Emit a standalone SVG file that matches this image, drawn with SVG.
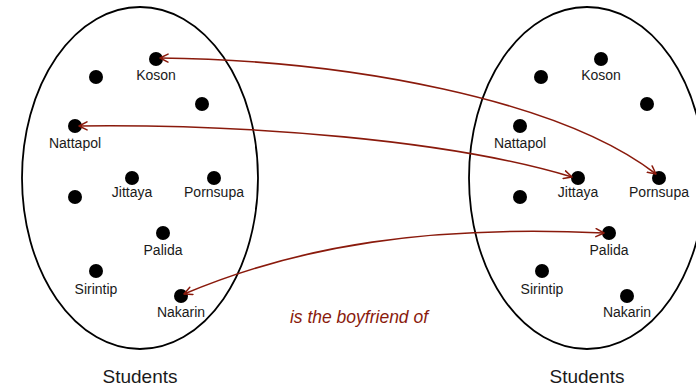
<svg xmlns="http://www.w3.org/2000/svg" width="696" height="389" viewBox="0 0 696 389">
  <defs>
    <marker id="chev" viewBox="0 0 10 10" refX="9" refY="5" markerWidth="10" markerHeight="10" markerUnits="userSpaceOnUse" orient="auto-start-reverse">
      <path d="M1,1 L9,5 L1,9" fill="none" stroke="#8a1a0c" stroke-width="1.5" stroke-linecap="round" stroke-linejoin="round"/>
    </marker>
  </defs>
  <style>
    .set { fill: none; stroke: #000; stroke-width: 1.8; }
    .dot { fill: #000; }
    .lbl { font-family: "Liberation Sans", Arial, sans-serif; font-size: 14px; fill: #1a1a1a; text-anchor: middle; }
    .title { font-family: "Liberation Sans", Arial, sans-serif; font-size: 19px; fill: #1a1a1a; text-anchor: middle; }
    .rel { fill: none; stroke: #8a1a0c; stroke-width: 1.6; marker-start: url(#chev); marker-end: url(#chev); }
    .rel-lbl { font-family: "Liberation Sans", Arial, sans-serif; font-style: italic; font-size: 17.5px; fill: #8a1a0c; text-anchor: middle; }
  </style>
  <rect width="696" height="389" fill="#fff"/>

  <!-- domain set -->
  <g id="set-left">
    <ellipse class="set" cx="140" cy="178" rx="118" ry="171"/>
    <text class="title" x="140" y="383">Students</text>
  </g>
  <g id="l-koson"><circle class="dot" cx="156" cy="59" r="7"/><text class="lbl" x="156" y="80">Koson</text></g>
  <g id="l-anon1"><circle class="dot" cx="96" cy="77" r="7"/></g>
  <g id="l-anon2"><circle class="dot" cx="202" cy="104" r="7"/></g>
  <g id="l-nattapol"><circle class="dot" cx="75" cy="126" r="7"/><text class="lbl" x="75" y="148">Nattapol</text></g>
  <g id="l-jittaya"><circle class="dot" cx="132" cy="178" r="7"/><text class="lbl" x="132" y="197">Jittaya</text></g>
  <g id="l-pornsupa"><circle class="dot" cx="214" cy="178" r="7"/><text class="lbl" x="214" y="197">Pornsupa</text></g>
  <g id="l-anon3"><circle class="dot" cx="75" cy="197" r="7"/></g>
  <g id="l-palida"><circle class="dot" cx="163" cy="233" r="7"/><text class="lbl" x="163" y="255">Palida</text></g>
  <g id="l-sirintip"><circle class="dot" cx="96" cy="271" r="7"/><text class="lbl" x="96" y="294">Sirintip</text></g>
  <g id="l-nakarin"><circle class="dot" cx="181" cy="296" r="7"/><text class="lbl" x="181" y="317">Nakarin</text></g>

  <!-- codomain set -->
  <g id="set-right">
    <ellipse class="set" cx="587" cy="178" rx="118" ry="171"/>
    <text class="title" x="587" y="383">Students</text>
  </g>
  <g id="r-koson"><circle class="dot" cx="601" cy="59" r="7"/><text class="lbl" x="601" y="80">Koson</text></g>
  <g id="r-anon1"><circle class="dot" cx="541" cy="77" r="7"/></g>
  <g id="r-anon2"><circle class="dot" cx="647" cy="104" r="7"/></g>
  <g id="r-nattapol"><circle class="dot" cx="520" cy="126" r="7"/><text class="lbl" x="520" y="148">Nattapol</text></g>
  <g id="r-jittaya"><circle class="dot" cx="578" cy="178" r="7"/><text class="lbl" x="578" y="197">Jittaya</text></g>
  <g id="r-pornsupa"><circle class="dot" cx="659" cy="178" r="7"/><text class="lbl" x="659" y="197">Pornsupa</text></g>
  <g id="r-anon3"><circle class="dot" cx="520" cy="197" r="7"/></g>
  <g id="r-palida"><circle class="dot" cx="609" cy="233" r="7"/><text class="lbl" x="609" y="255">Palida</text></g>
  <g id="r-sirintip"><circle class="dot" cx="542" cy="271" r="7"/><text class="lbl" x="542" y="294">Sirintip</text></g>
  <g id="r-nakarin"><circle class="dot" cx="627" cy="296" r="7"/><text class="lbl" x="627" y="317">Nakarin</text></g>

  <!-- relation pairs -->
  <g id="connectors">
    <path class="rel" d="M160,58 C350,60 560,100 656,174"/>
    <path class="rel" d="M79,126 C250,124 450,140 572,177"/>
    <path class="rel" d="M184,294 C300,245 430,225 604,233"/>
  </g>
  <text class="rel-lbl" x="359" y="323">is the boyfriend of</text>
</svg>
